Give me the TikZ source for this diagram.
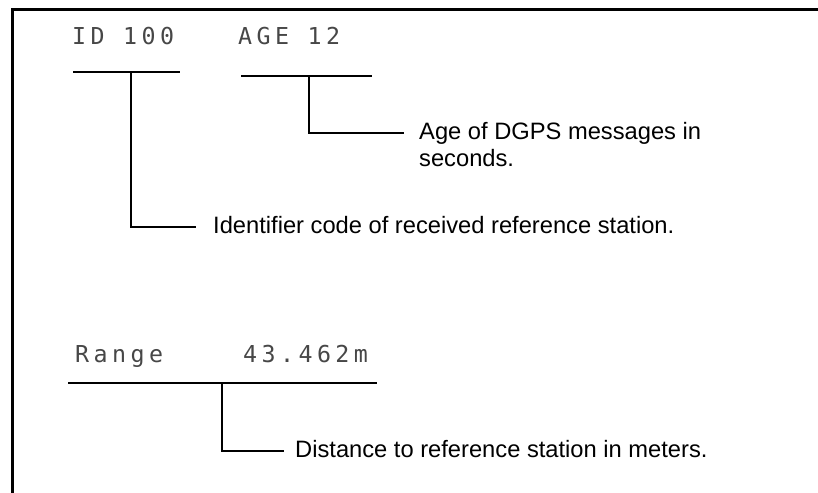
\documentclass[tikz,border=0pt]{standalone}
\usepackage{fontspec}
\setmainfont{Liberation Sans}
\newfontfamily\lcdfont[LetterSpace=19]{DejaVu Sans Mono}
\begin{document}
\begin{tikzpicture}[x=1pt,y=-1pt,
  frame/.style={line width=3pt},
  bar/.style={line width=1.9pt},
  lead/.style={line width=1.6pt},
  lcd/.style={font=\lcdfont\fontsize{23.3}{26}\selectfont, text=black!72, inner sep=0pt, anchor=base west},
  desc/.style={font=\fontsize{23.7}{27}\selectfont, inner sep=0pt, anchor=base west, align=left}]
\useasboundingbox (0,0) rectangle (818,492);
\draw[frame] (12.5,493) -- (12.5,9.7) -- (819,9.7);

% display texts
\node[lcd] (id) at (72,45) {ID 100};
\node[lcd] (age) at (238,45) {AGE 12};
\node[lcd] (range) at (75,362) {Range};
\node[lcd] (dist) at (243,362) {43.462m};

% bars under the display texts
\coordinate (idL) at (73,71.7);
\coordinate (idR) at (180,71.7);
\coordinate (idT) at (130.7,71.7);
\coordinate (ageL) at (241,76);
\coordinate (ageR) at (372,76);
\coordinate (ageT) at (309,76);
\coordinate (rngL) at (68,383);
\coordinate (rngR) at (377,383);
\coordinate (rngT) at (222,383);
\draw[bar] (idL) -- (idR);
\draw[bar] (ageL) -- (ageR);
\draw[bar] (rngL) -- (rngR);

% descriptions
\node[desc] (idtxt) at (213,233) {Identifier code of received reference station.};
\node[desc, anchor=north west] (agetxt) at (419,121.7) {Age of DGPS messages in\\seconds.};
\node[desc] (disttxt) at (295,457) {Distance to reference station in meters.};

% leaders
\draw[lead] (idT) |- ([xshift=-17pt,yshift=6pt]idtxt.base west);
\draw[lead] (ageT) |- ([xshift=-15pt,yshift=-11.3pt]agetxt.north west);
\draw[lead] (rngT) |- ([xshift=-11pt,yshift=6pt]disttxt.base west);
\end{tikzpicture}
\end{document}
